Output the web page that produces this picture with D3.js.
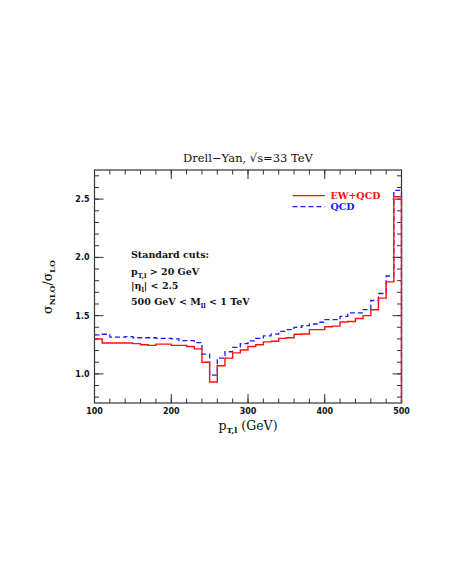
<!DOCTYPE html>
<html>
<head>
<meta charset="utf-8">
<script src="https://cdn.jsdelivr.net/npm/d3@7"></script>
<style>
  body { margin: 0; background: #fff; }
  text { fill: #111; }
  .tick-label { font-family: "DejaVu Sans", sans-serif; font-weight: bold; font-size: 8px; }
  .note { font-family: "DejaVu Serif", serif; font-weight: bold; font-size: 9.5px; }
</style>
</head>
<body>
<div id="chart"></div>
<script>
// bin lower edges (GeV), bin width 10
const binStart = [100, 110, 120, 130, 140, 150, 160, 170, 180, 190,
                  200, 210, 220, 230, 240, 250, 260, 270, 280, 290,
                  300, 310, 320, 330, 340, 350, 360, 370, 380, 390,
                  400, 410, 420, 430, 440, 450, 460, 470, 480, 490];
const binWidth = 10;

const ewqcd = [1.30, 1.265, 1.265, 1.265, 1.265, 1.26, 1.25, 1.245, 1.255, 1.255,
               1.245, 1.245, 1.235, 1.215, 1.10, 0.93, 1.07, 1.135, 1.18, 1.205,
               1.235, 1.25, 1.275, 1.28, 1.305, 1.31, 1.34, 1.342, 1.38, 1.38,
               1.405, 1.41, 1.445, 1.45, 1.475, 1.50, 1.55, 1.65, 1.79, 2.52];

const qcd = [1.335, 1.34, 1.315, 1.315, 1.32, 1.31, 1.31, 1.31, 1.305, 1.305,
             1.30, 1.285, 1.285, 1.268, 1.17, 0.99, 1.135, 1.19, 1.227, 1.26,
             1.284, 1.304, 1.327, 1.342, 1.365, 1.379, 1.399, 1.415, 1.428, 1.443,
             1.465, 1.465, 1.494, 1.523, 1.523, 1.552, 1.63, 1.69, 1.84, 2.575];

const xTicks = [100, 200, 300, 400, 500];
const yTicks = [1.0, 1.5, 2.0, 2.5];
const xDomain = [100, 500];
const yDomain = [0.75, 2.75];

const cuts = ["Standard cuts:", "pT,l > 20 GeV", "|ηl| < 2.5", "500 GeV < Mll < 1 TeV"];

const W = 454, H = 588;
const m = {top: 170, right: 52.5, bottom: 185, left: 94.5};
const iw = W - m.left - m.right, ih = H - m.top - m.bottom;

const svg = d3.select('#chart').append('svg')
    .attr('width', W).attr('height', H);

const x = d3.scaleLinear().domain(xDomain).range([0, iw]);
const y = d3.scaleLinear().domain(yDomain).range([ih, 0]);

const plot = svg.append('g').attr('transform', `translate(${m.left},${m.top})`);

// minor / major ticks on all four sides, pointing inward
const xMinor = d3.range(xDomain[0], xDomain[1] + 1, 20);
const yMinor = d3.range(8, 28).map(d => d / 10);
const tickCol = '#333';

function hTicks(vals, len, yy, dir) {
  plot.selectAll(null).data(vals).enter().append('line')
    .attr('x1', d => x(d)).attr('x2', d => x(d))
    .attr('y1', yy).attr('y2', yy + dir * len)
    .attr('stroke', tickCol).attr('stroke-width', 1);
}
function vTicks(vals, len, xx, dir) {
  plot.selectAll(null).data(vals).enter().append('line')
    .attr('y1', d => y(d)).attr('y2', d => y(d))
    .attr('x1', xx).attr('x2', xx + dir * len)
    .attr('stroke', tickCol).attr('stroke-width', 1);
}
hTicks(xMinor, 4.5, ih, -1);
hTicks(xTicks, 9, ih, -1);
hTicks(xMinor, 4.5, 0, 1);
hTicks(xTicks, 9, 0, 1);
vTicks(yMinor, 4.5, 0, 1);
vTicks(yTicks, 9, 0, 1);
vTicks(yMinor, 4.5, iw, -1);
vTicks(yTicks, 9, iw, -1);

plot.append('rect')
    .attr('width', iw).attr('height', ih)
    .attr('fill', 'none').attr('stroke', tickCol).attr('stroke-width', 1.2);

// tick labels
plot.selectAll('.xl').data(xTicks).enter().append('text')
    .attr('class', 'tick-label')
    .attr('x', d => x(d)).attr('y', ih + 11)
    .attr('text-anchor', 'middle')
    .text(d => d);
plot.selectAll('.yl').data(yTicks).enter().append('text')
    .attr('class', 'tick-label')
    .attr('x', -5).attr('y', d => y(d) + 3)
    .attr('text-anchor', 'end')
    .text(d => d.toFixed(1));

// histograms as step lines
function stepPoints(vals, dropToFloor) {
  const pts = binStart.map((b, i) => [b, vals[i]]);
  const last = binStart[binStart.length - 1] + binWidth;
  pts.push([last, vals[vals.length - 1]]);
  if (dropToFloor) pts.push([last, yDomain[0]]);
  return pts;
}
const step = d3.line()
    .x(d => x(d[0]))
    .y(d => y(d[1]))
    .curve(d3.curveStepAfter);

plot.append('path')
    .datum(stepPoints(qcd, true))
    .attr('d', step)
    .attr('fill', 'none')
    .attr('stroke', '#1a1aff')
    .attr('stroke-width', 1.3)
    .attr('stroke-dasharray', '5,3');

plot.append('path')
    .datum(stepPoints(ewqcd, true))
    .attr('d', step)
    .attr('fill', 'none')
    .attr('stroke', '#ff1010')
    .attr('stroke-width', 1.4);

// legend
const legend = [
  {label: 'EW+QCD', color: '#ff1010', dash: null},
  {label: 'QCD', color: '#1a1aff', dash: '5,3'}
];
legend.forEach((l, i) => {
  const ly = 25.7 + i * 11;
  plot.append('line')
      .attr('x1', 198).attr('x2', 230.5)
      .attr('y1', ly).attr('y2', ly)
      .attr('stroke', l.color).attr('stroke-width', 1.2)
      .attr('stroke-dasharray', l.dash);
  plot.append('text')
      .attr('class', 'note')
      .attr('x', 236).attr('y', ly + 3.5)
      .style('fill', l.color)
      .text(l.label);
});

// annotation block
const note = plot.append('g').attr('transform', 'translate(36.5, 88)');
const n0 = note.append('text').attr('class', 'note').attr('y', 0).text(cuts[0]);

const n1 = note.append('text').attr('class', 'note').attr('y', 17);
n1.append('tspan').text('p');
n1.append('tspan').attr('dy', 2.5).style('font-size', '6.5px').text('T,l');
n1.append('tspan').attr('dy', -2.5).text(' > 20 GeV');

const n2 = note.append('text').attr('class', 'note').attr('y', 31);
n2.append('tspan').text('|η');
n2.append('tspan').attr('dy', 2.5).style('font-size', '6.5px').text('l');
n2.append('tspan').attr('dy', -2.5).text('| < 2.5');

const n3 = note.append('text').attr('class', 'note').attr('y', 47);
n3.append('tspan').text('500 GeV < M');
n3.append('tspan').attr('dy', 2.5).style('font-size', '6.5px').text('ll');
n3.append('tspan').attr('dy', -2.5).text(' < 1 TeV');

// title
svg.append('text')
    .attr('x', m.left + iw / 2).attr('y', 162)
    .attr('text-anchor', 'middle')
    .style('font-family', '"DejaVu Serif", serif')
    .style('font-size', '11.5px')
    .text('Drell\u2212Yan, \u221As=33 TeV');

// x axis label
const xl = svg.append('text')
    .attr('x', m.left + iw / 2).attr('y', 430)
    .attr('text-anchor', 'middle')
    .style('font-family', '"DejaVu Serif", serif')
    .style('font-size', '12.5px');
xl.append('tspan').text('p');
xl.append('tspan').attr('dy', 3).style('font-size', '8px').style('font-weight', 'bold').text('T,l');
xl.append('tspan').attr('dy', -3).text(' (GeV)');

// y axis label
const yl = svg.append('text')
    .attr('transform', 'translate(52, 287) rotate(-90)')
    .attr('text-anchor', 'middle')
    .style('font-family', '"DejaVu Serif", serif')
    .style('font-size', '12.5px');
yl.append('tspan').text('σ');
yl.append('tspan').attr('dy', 3).style('font-size', '8px').style('font-weight', 'bold').text('NLO');
yl.append('tspan').attr('dy', -3).text('/σ');
yl.append('tspan').attr('dy', 3).style('font-size', '8px').style('font-weight', 'bold').text('LO');
</script>
</body>
</html>
